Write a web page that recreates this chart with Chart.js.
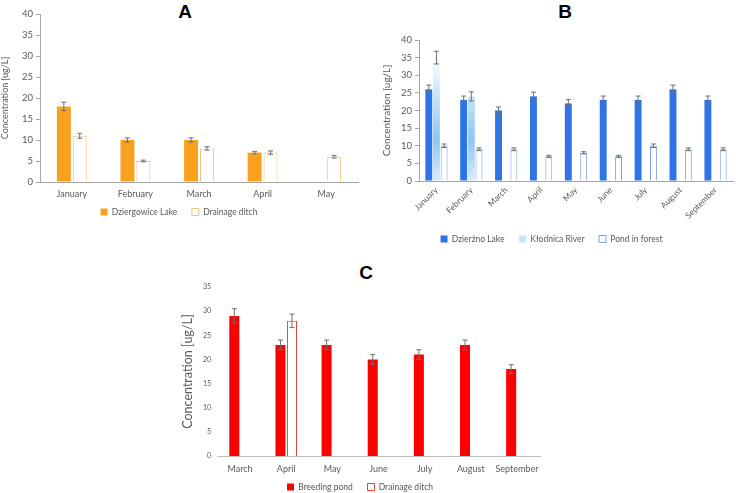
<!DOCTYPE html>
<html>
<head>
<meta charset="utf-8">
<script src="https://cdn.jsdelivr.net/npm/chart.js@4.4.1/dist/chart.umd.min.js"></script>
<style>
    html, body { margin: 0; padding: 0; background: #fff; overflow: hidden; width: 739px; height: 493px; }
    canvas { position: absolute; }
    .ttl { position: absolute; font-family: "Liberation Sans", Arial, sans-serif; font-weight: bold; font-size: 19px; color: #000; transform: translate(-50%, -50%); }
</style>
</head>
<body>
<div class="ttl" style="left:185px; top:12px;">A</div>
<div class="ttl" style="left:565px; top:12px;">B</div>
<div class="ttl" style="left:366px; top:273px;">C</div>
<canvas id="chartA" width="365" height="228" style="left:0; top:0;"></canvas>
<canvas id="chartB" width="369" height="255" style="left:370px; top:0;"></canvas>
<canvas id="chartC" width="380" height="243" style="left:180px; top:260px;"></canvas>
<script>
// ---- data: panel A ----
var monthsA = ['January', 'February', 'March', 'April', 'May'];
var dziergowice = [18, 10, 10, 7, null];
var dziergowiceErr = [1, 0.5, 0.5, 0.3, null];
var ditchA = [11, 5, 8, 7, 6];
var ditchAErr = [0.6, 0.2, 0.4, 0.4, 0.3];

// ---- data: panel B ----
var monthsB = ['January', 'February', 'March', 'April', 'May', 'June', 'July', 'August', 'September'];
var dzierzno = [26, 23, 20, 24, 22, 23, 23, 26, 23];
var dzierznoErr = [1.2, 1.1, 1, 1.2, 1.1, 1.1, 1.1, 1.2, 1.1];
var klodnica = [35, 24, null, null, null, null, null, null, null];
var klodnicaErr = [1.8, 1.3, null, null, null, null, null, null, null];
var pondForest = [10, 9, 9, 7, 8, 7, 10, 9, 9];
var pondForestErr = [0.5, 0.4, 0.4, 0.3, 0.3, 0.3, 0.5, 0.4, 0.4];

// ---- data: panel C ----
var monthsC = ['March', 'April', 'May', 'June', 'July', 'August', 'September'];
var breeding = [29, 23, 23, 20, 21, 23, 18];
var breedingErr = [1.5, 1, 1, 1, 1, 1, 0.9];
var ditchC = [null, 28, null, null, null, null, null];
var ditchCErr = [null, 1.4, null, null, null, null, null];

var yTicksAB = [0, 5, 10, 15, 20, 25, 30, 35, 40];

var FONT = 'Lato, "Open Sans", sans-serif';
var GREY = '#595959';

// error bars drawn through the y scale
var errorBarPlugin = {
    id: 'errorBars',
    afterDatasetsDraw: function (chart) {
        var ctx = chart.ctx;
        var yScale = chart.scales.y;
        chart.data.datasets.forEach(function (ds, i) {
            if (!ds.errorBars) return;
            var meta = chart.getDatasetMeta(i);
            meta.data.forEach(function (bar, j) {
                var v = ds.data[j], e = ds.errorBars[j];
                if (v == null || e == null) return;
                var top = yScale.getPixelForValue(v + e);
                var bot = yScale.getPixelForValue(v - e);
                ctx.save();
                ctx.strokeStyle = '#6f6f6f';
                ctx.lineWidth = 1;
                ctx.beginPath();
                ctx.moveTo(bar.x, top); ctx.lineTo(bar.x, bot);
                ctx.moveTo(bar.x - 2.5, top); ctx.lineTo(bar.x + 2.5, top);
                ctx.moveTo(bar.x - 2.5, bot); ctx.lineTo(bar.x + 2.5, bot);
                ctx.stroke();
                ctx.restore();
            });
        });
    }
};

function yTitle(size, pad) {
    return { display: true, text: 'Concentration [ug/L]', color: GREY, font: { family: FONT, size: size }, padding: { top: pad, bottom: 0 } };
}

function legendOpts(fill) {
    return {
        position: 'bottom',
        labels: {
            color: GREY, font: { family: FONT, size: 8.5 },
            boxWidth: 7, boxHeight: 7, padding: 6,
            generateLabels: function (chart) {
                var items = Chart.defaults.plugins.legend.labels.generateLabels(chart);
                items.forEach(function (it, k) {
                    if (fill && fill[k]) it.fillStyle = fill[k];
                    // wider gap between legend entries, like the original
                    if (k < items.length - 1) it.text += '\u00a0\u00a0\u00a0\u00a0';
                });
                return items;
            }
        }
    };
}

window.onload = function () {
    // Panel A
    new Chart(document.getElementById('chartA').getContext('2d'), {
        type: 'bar',
        data: {
            labels: monthsA,
            datasets: [{
                label: 'Dziergowice Lake',
                data: dziergowice,
                errorBars: dziergowiceErr,
                backgroundColor: '#f9a11f',
                borderWidth: 0
            }, {
                label: 'Drainage ditch',
                data: ditchA,
                errorBars: ditchAErr,
                backgroundColor: '#ffffff',
                borderColor: '#f3c27a',
                borderWidth: 1
            }]
        },
        options: {
            responsive: false,
            devicePixelRatio: 1,
            animation: false,
            categoryPercentage: 0.5,
            barPercentage: 0.875,
            layout: { padding: { top: 14, right: 7, bottom: 1.75, left: 0 } },
            plugins: { legend: legendOpts(), tooltip: { enabled: false } },
            scales: {
                y: {
                    min: 0, max: 40,
                    afterBuildTicks: function (s) { s.ticks = yTicksAB.map(function (v) { return { value: v }; }); },
                    afterFit: function (s) { s.width = 40; },
                    ticks: { color: GREY, font: { family: FONT, size: 9.5 }, padding: 3 },
                    grid: { drawOnChartArea: false, drawTicks: true, tickLength: 4, color: '#a6a6a6' },
                    border: { color: '#a6a6a6' },
                    title: yTitle(9, 0)
                },
                x: {
                    afterFit: function (s) { s.height = 19.75; },
                    ticks: { color: GREY, font: { family: FONT, size: 9 }, padding: 7, maxRotation: 0, autoSkip: false },
                    grid: { display: false, drawTicks: false },
                    border: { color: '#a6a6a6' }
                }
            }
        },
        plugins: [errorBarPlugin]
    });

    // Panel B
    new Chart(document.getElementById('chartB').getContext('2d'), {
        type: 'bar',
        data: {
            labels: monthsB,
            datasets: [{
                label: 'Dzierżno Lake',
                data: dzierzno,
                errorBars: dzierznoErr,
                backgroundColor: '#2f74e6',
                borderWidth: 0
            }, {
                label: 'Kłodnica River',
                data: klodnica,
                errorBars: klodnicaErr,
                backgroundColor: function (c) {
                    var area = c.chart.chartArea;
                    if (!area) return '#cde4f7';
                    var g = c.chart.ctx.createLinearGradient(0, area.top, 0, area.bottom);
                    g.addColorStop(0, '#ffffff');
                    g.addColorStop(0.2, '#eef6fd');
                    g.addColorStop(0.7, '#8ec6f1');
                    g.addColorStop(1, '#d6ebfb');
                    return g;
                },
                borderWidth: 0
            }, {
                label: 'Pond in forest',
                data: pondForest,
                errorBars: pondForestErr,
                backgroundColor: '#ffffff',
                borderColor: '#7f9fd9',
                borderWidth: 1
            }]
        },
        options: {
            responsive: false,
            devicePixelRatio: 1,
            animation: false,
            categoryPercentage: 0.66,
            barPercentage: 0.9,
            layout: { padding: { top: 40, right: 6, bottom: 1.75, left: 0 } },
            plugins: { legend: legendOpts([null, '#cde4f7', null]), tooltip: { enabled: false } },
            scales: {
                y: {
                    min: 0, max: 40,
                    afterBuildTicks: function (s) { s.ticks = yTicksAB.map(function (v) { return { value: v }; }); },
                    afterFit: function (s) { s.width = 49; },
                    ticks: { color: GREY, font: { family: FONT, size: 9.5 }, padding: 3 },
                    grid: { drawOnChartArea: false, drawTicks: true, tickLength: 4, color: '#a6a6a6' },
                    border: { color: '#a6a6a6' },
                    title: yTitle(10, 11)
                },
                x: {
                    afterFit: function (s) { s.height = 47.75; },
                    ticks: { color: GREY, font: { family: FONT, size: 8.5 }, padding: 4, minRotation: 45, maxRotation: 45, autoSkip: false },
                    grid: { display: false, drawTicks: false },
                    border: { color: '#a6a6a6' }
                }
            }
        },
        plugins: [errorBarPlugin]
    });

    // Panel C
    new Chart(document.getElementById('chartC').getContext('2d'), {
        type: 'bar',
        data: {
            labels: monthsC,
            datasets: [{
                label: 'Breeding pond',
                data: breeding,
                errorBars: breedingErr,
                backgroundColor: '#ff0000',
                borderWidth: 0
            }, {
                label: 'Drainage ditch',
                data: ditchC,
                errorBars: ditchCErr,
                backgroundColor: '#ffffff',
                borderColor: '#e0423c',
                borderWidth: 1
            }]
        },
        options: {
            responsive: false,
            devicePixelRatio: 1,
            animation: false,
            categoryPercentage: 0.5,
            barPercentage: 0.87,
            layout: { padding: { top: 27, right: 20, bottom: 1.75, left: 0 } },
            plugins: { legend: legendOpts(), tooltip: { enabled: false } },
            scales: {
                y: {
                    min: 0, max: 35,
                    ticks: { stepSize: 5, color: GREY, font: { family: FONT, size: 7 }, padding: 6 },
                    afterFit: function (s) { s.width = 37; },
                    grid: { display: false, drawTicks: false },
                    border: { display: false },
                    title: yTitle(12.5, 0)
                },
                x: {
                    afterFit: function (s) { s.height = 20.75; },
                    ticks: { color: GREY, font: { family: FONT, size: 9 }, padding: 7.5, maxRotation: 0, autoSkip: false },
                    grid: { display: false, drawTicks: false },
                    border: { color: '#bfbfbf' }
                }
            }
        },
        plugins: [errorBarPlugin]
    });
};
</script>
</body>
</html>
